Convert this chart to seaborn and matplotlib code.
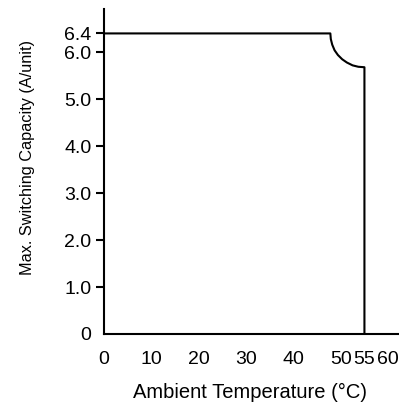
import matplotlib
matplotlib.use("Agg")
import matplotlib.pyplot as plt
import seaborn as sns
import pandas as pd

# Data
temps = [0, 47.8, 47.9, 48.2, 48.7, 49.4, 50.3, 51.3, 52.5, 53.7, 55.0, 55.0]
caps = [6.4, 6.4, 6.28, 6.16, 6.04, 5.94, 5.85, 5.78, 5.72, 5.69, 5.68, 0.0]
x_ticks = [0, 10, 20, 30, 40, 50, 55, 60]
x_labels = ["0", "10", "20", "30", "40", "50", "55", "60"]
y_ticks = [0, 1, 2, 3, 4, 5, 6, 6.4]
y_labels = ["0", "1.0", "2.0", "3.0", "4.0", "5.0", "6.0", "6.4"]

sns.set_style("ticks")
plt.rcParams["font.family"] = ["Liberation Sans", "DejaVu Sans"]

df = pd.DataFrame({"t": temps, "c": caps})

fig = plt.figure(figsize=(3.99, 4.09), dpi=100)
ax = fig.add_axes([104 / 399, 1 - 334 / 409, (399 - 104) / 399, (334 - 9) / 409])
sns.lineplot(data=df, x="t", y="c", sort=False, estimator=None, color="black",
             linewidth=1.5, ax=ax)

ax.set_xlim(0, 62.3)
ax.set_ylim(0, 6.92)
for s in ["top", "right"]:
    ax.spines[s].set_visible(False)
for s in ["left", "bottom"]:
    ax.spines[s].set_linewidth(1.5)
    ax.spines[s].set_color("black")

ax.set_xticks(x_ticks, x_labels)
ax.set_yticks(y_ticks, y_labels)
ax.set_xticks([55, 60], minor=True)
ax.tick_params(axis="x", which="major", length=0, pad=12, labelsize=14, colors="black")
ax.tick_params(axis="x", which="minor", length=6, width=1.5, direction="out", color="black")
ax.tick_params(axis="y", which="major", length=6, width=1.5, pad=3, labelsize=14, colors="black")
ax.yaxis.get_major_ticks()[0].tick1line.set_visible(False)

ax.set_xlabel("Ambient Temperature (°C)", fontsize=14.5, color="black")
ax.set_ylabel("Max. Switching Capacity (A/unit)", fontsize=11.7, color="black")
ax.xaxis.set_label_coords(0.495, -0.151)
ax.yaxis.set_label_coords(-0.235, 0.543)

fig.savefig("out.png", dpi=100)
